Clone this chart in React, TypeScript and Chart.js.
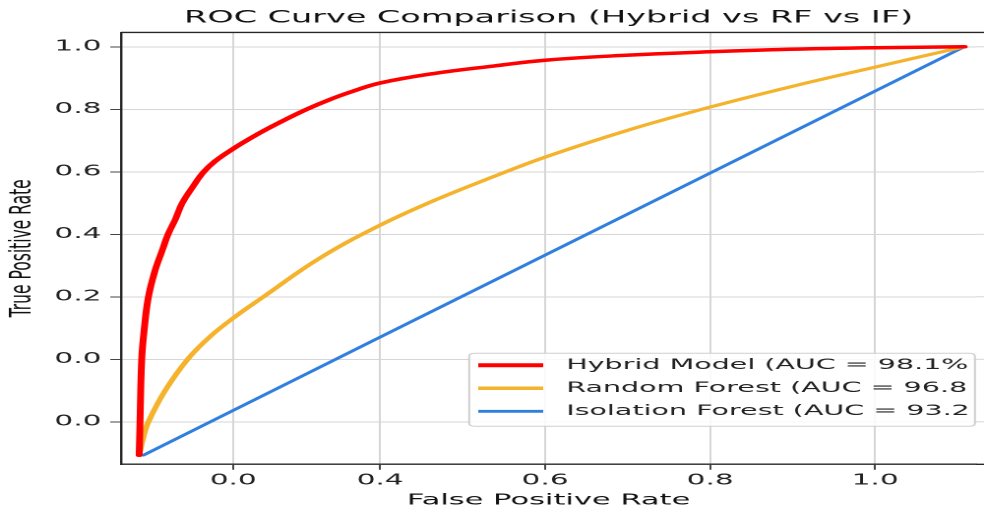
import { useEffect, useRef } from "react";
import { Chart, registerables } from "chart.js";

Chart.register(...registerables);

// ---- Data ----
const titleText = "ROC Curve Comparison (Hybrid vs RF vs IF)";
const xAxisTitle = "False Positive Rate";
const yAxisTitle = "True Positive Rate";

const seriesLabels = [
  "Hybrid Model (AUC = 98.1%",
  "Random Forest (AUC = 96.8",
  "Isolation Forest (AUC = 93.2",
];
const seriesColors = ["#ff0000", "#f5b22b", "#2f7fdf"];
const seriesWidths = [3.5, 3, 2.4];

const hybridX = [0.108, 0.109, 0.111, 0.114, 0.119, 0.127, 0.136, 0.143, 0.152, 0.16, 0.173, 0.186, 0.2, 0.222, 0.242, 0.263, 0.285, 0.311, 0.337, 0.364, 0.4, 0.464, 0.536, 0.6, 0.691, 0.8, 0.897, 1.0, 1.108];
const hybridY = [-0.307, -0.201, -0.003, 0.093, 0.197, 0.282, 0.349, 0.4, 0.449, 0.499, 0.552, 0.599, 0.634, 0.674, 0.706, 0.737, 0.767, 0.8, 0.829, 0.855, 0.884, 0.914, 0.938, 0.957, 0.972, 0.984, 0.992, 0.997, 1.0];

const forestX = [0.108, 0.113, 0.119, 0.139, 0.167, 0.194, 0.222, 0.258, 0.327, 0.4, 0.468, 0.536, 0.6, 0.699, 0.8, 0.899, 1.0, 1.108];
const forestY = [-0.307, -0.249, -0.201, -0.102, 0.001, 0.073, 0.132, 0.199, 0.324, 0.429, 0.511, 0.583, 0.647, 0.732, 0.807, 0.873, 0.935, 1.0];

const isolationX = [0.113, 0.4, 1.108];
const isolationY = [-0.307, 0.071, 1.0];

const xTickValues = [0.222, 0.4, 0.6, 0.8, 1.0];
const xTickLabels = ["0.0", "0.4", "0.6", "0.8", "1.0"];
const yTickValues = [1.0, 0.8, 0.6, 0.4, 0.2, 0.0, -0.2];
const yTickLabels = ["1.0", "0.8", "0.6", "0.4", "0.2", "0.0", "0.0"];

const xMin = 0.086;
const xMax = 1.1224;
const yMin = -0.336;
const yMax = 1.046;

// ---- Styling ----
const FAMILY = "'DejaVu Sans', 'Liberation Sans', sans-serif";
const INNER_W = 500;
const INNER_H = 512;
const TEXT = "#222222";
const GRID = "#d6d6d6";
const SPINE = "#262626";

const toPoints = (xs: number[], ys: number[]) => xs.map((x, i) => ({ x, y: ys[i] }));

const framePlugin = {
  id: "frame",
  beforeDraw(chart: any) {
    const { ctx } = chart;
    ctx.save();
    ctx.fillStyle = "#ffffff";
    ctx.fillRect(0, 0, chart.width, chart.height);
    ctx.restore();
  },
  beforeDatasetsDraw(chart: any) {
    // horizontal grid lines continue to the right edge of the picture
    const { ctx, chartArea, scales } = chart;
    ctx.save();
    ctx.strokeStyle = GRID;
    ctx.lineWidth = 1;
    yTickValues.forEach((v) => {
      const py = scales.y.getPixelForValue(v);
      ctx.beginPath();
      ctx.moveTo(chartArea.right, py);
      ctx.lineTo(chart.width, py);
      ctx.stroke();
    });
    ctx.restore();
  },
  afterDraw(chart: any) {
    const { ctx, chartArea } = chart;
    ctx.save();
    ctx.strokeStyle = SPINE;
    ctx.lineWidth = 1.4;
    ctx.beginPath();
    ctx.moveTo(chartArea.left, chartArea.top);
    ctx.lineTo(chart.width, chartArea.top);
    ctx.moveTo(chartArea.right, chartArea.bottom);
    ctx.lineTo(chart.width, chartArea.bottom);
    ctx.stroke();
    ctx.restore();
  },
};

const legendPlugin = {
  id: "boxLegend",
  afterDraw(chart: any) {
    const { ctx, chartArea } = chart;
    const boxW = 257;
    const rowH = 23;
    const n = chart.data.datasets.length;
    const boxH = 12 + rowH * (n - 1) + 15;
    const right = chartArea.right - 0.6;
    const bottom = chartArea.bottom - 38;
    const left = right - boxW;
    const top = bottom - boxH;
    ctx.save();
    ctx.beginPath();
    const r = 3;
    ctx.moveTo(left + r, top);
    ctx.lineTo(right - r, top);
    ctx.quadraticCurveTo(right, top, right, top + r);
    ctx.lineTo(right, bottom - r);
    ctx.quadraticCurveTo(right, bottom, right - r, bottom);
    ctx.lineTo(left + r, bottom);
    ctx.quadraticCurveTo(left, bottom, left, bottom - r);
    ctx.lineTo(left, top + r);
    ctx.quadraticCurveTo(left, top, left + r, top);
    ctx.closePath();
    ctx.fillStyle = "rgba(255,255,255,0.85)";
    ctx.fill();
    ctx.strokeStyle = "#cfcfcf";
    ctx.lineWidth = 1;
    ctx.stroke();

    chart.data.datasets.forEach((ds: any, i: number) => {
      const cy = top + 12 + i * rowH;
      ctx.beginPath();
      ctx.strokeStyle = ds.borderColor;
      ctx.lineWidth = ds.borderWidth + 0.5;
      ctx.moveTo(left + 4.6, cy);
      ctx.lineTo(left + 37.6, cy);
      ctx.stroke();
      ctx.fillStyle = TEXT;
      ctx.font = `14.5px ${FAMILY}`;
      ctx.textAlign = "left";
      ctx.textBaseline = "middle";
      ctx.fillText(ds.label, left + 49.3, cy);
    });
    ctx.restore();
  },
};

export default function App() {
  const ref = useRef<HTMLCanvasElement>(null);

  useEffect(() => {
    document.body.style.margin = "0";
    const canvas = ref.current;
    if (!canvas) return;

    const datasets = [
      toPoints(hybridX, hybridY),
      toPoints(forestX, forestY),
      toPoints(isolationX, isolationY),
    ].map((pts, i) => ({
      label: seriesLabels[i],
      data: pts,
      borderColor: seriesColors[i],
      backgroundColor: seriesColors[i],
      borderWidth: seriesWidths[i],
      pointRadius: 0,
      fill: false,
      cubicInterpolationMode: "default" as const,
      tension: i < 2 ? 0.4 : 0,
      borderCapStyle: "round" as const,
      borderJoinStyle: "round" as const,
    }));

    const chart = new Chart(canvas, {
      type: "line",
      data: { datasets },
      options: {
        responsive: false,
        animation: false,
        devicePixelRatio: 2,
        layout: { padding: { left: 0, right: 4, top: 0, bottom: 0 } },
        plugins: {
          legend: { display: false },
          tooltip: { enabled: false },
          title: {
            display: true,
            fullSize: false,
            text: titleText,
            color: "#111111",
            font: { family: FAMILY, size: 17, weight: "normal" as any, lineHeight: 1.2 },
            padding: { top: 8, bottom: 4 },
          },
        },
        scales: {
          x: {
            type: "linear",
            min: xMin,
            max: xMax,
            afterBuildTicks: (s: any) => {
              s.ticks = xTickValues.map((v) => ({ value: v }));
            },
            afterFit: (s: any) => {
              s.height = 47.7;
            },
            ticks: {
              callback: (_v: any, i: number) => xTickLabels[i],
              autoSkip: false,
              maxRotation: 0,
              color: TEXT,
              padding: 2,
              font: { family: FAMILY, size: 15 },
            },
            grid: { color: GRID, lineWidth: 1, tickColor: "#444444", tickLength: 5.5, tickWidth: 1 },
            border: { color: SPINE, width: 1.4 },
            title: {
              display: true,
              text: xAxisTitle,
              color: "#111111",
              font: { family: FAMILY, size: 15.5, lineHeight: 1.2 },
              padding: { top: 0, bottom: 2 },
            },
          },
          y: {
            type: "linear",
            min: yMin,
            max: yMax,
            afterBuildTicks: (s: any) => {
              s.ticks = yTickValues.map((v) => ({ value: v }));
            },
            afterFit: (s: any) => {
              s.width = 61.5;
            },
            ticks: {
              callback: (_v: any, i: number) => yTickLabels[i],
              autoSkip: false,
              color: TEXT,
              padding: 4.5,
              font: { family: FAMILY, size: 15 },
            },
            grid: { color: GRID, lineWidth: 1, tickColor: "#444444", tickLength: 5.5, tickWidth: 1 },
            border: { color: SPINE, width: 1.2 },
            title: {
              display: true,
              text: yAxisTitle,
              color: "#111111",
              font: { family: FAMILY, size: 15.5, lineHeight: 1.2 },
              padding: { top: 2, bottom: 0 },
            },
          },
        },
      },
      plugins: [framePlugin, legendPlugin],
    });

    return () => chart.destroy();
  }, []);

  return (
    <div style={{ position: "fixed", left: 0, top: 0, width: 984, height: 512, background: "#ffffff" }}>
      <canvas
        ref={ref}
        width={INNER_W}
        height={INNER_H}
        style={{ width: "984px", height: "512px", display: "block" }}
      />
    </div>
  );
}
